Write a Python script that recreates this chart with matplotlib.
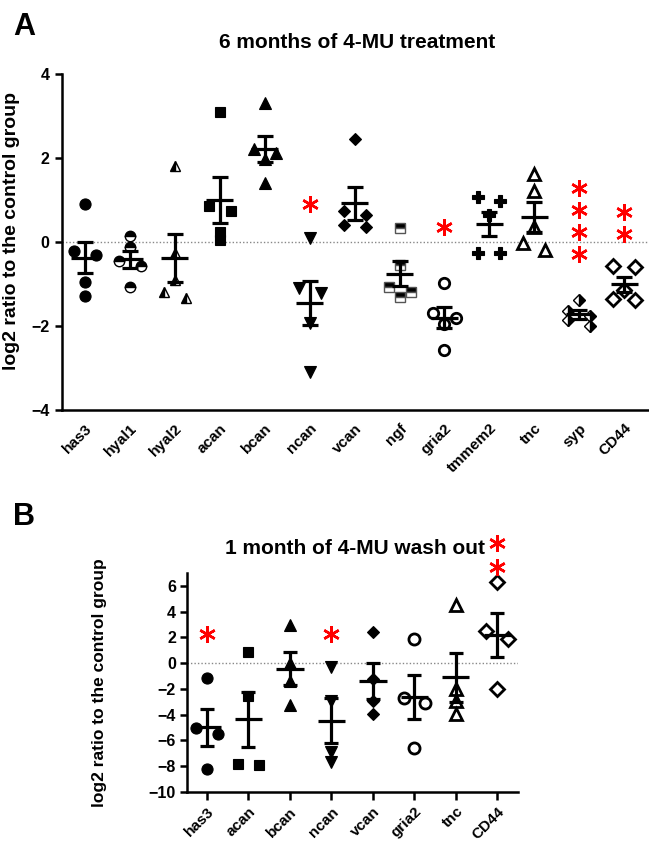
import numpy as np
import matplotlib
matplotlib.use('Agg')
import matplotlib.pyplot as plt

plt.rcParams['font.family'] = ['Liberation Sans', 'DejaVu Sans']
plt.rcParams['font.weight'] = 'bold'

# ---------------- Panel A data: 6 months of 4-MU treatment ----------------
genes_a = ['has3', 'hyal1', 'hyal2', 'acan', 'bcan', 'ncan', 'vcan', 'ngf',
           'gria2', 'tmmem2', 'tnc', 'syp', 'CD44']
a_has3 = [0.9, -0.21, -0.31, -0.95, -1.29]
a_hyal1 = [0.14, -0.12, -0.45, -0.57, -1.07]
a_hyal2 = [1.81, -0.26, -0.9, -1.2, -1.33]
a_acan = [3.1, 0.86, 0.74, 0.24, 0.05]
a_bcan = [3.31, 2.21, 2.12, 1.98, 1.4]
a_ncan = [0.1, -1.1, -1.22, -1.93, -3.1]
a_vcan = [2.45, 0.74, 0.64, 0.4, 0.36]
a_ngf = [0.33, -0.55, -1.07, -1.2, -1.3]
a_gria2 = [-0.97, -1.7, -1.8, -1.96, -2.57]
a_tmmem2 = [1.07, 0.97, 0.65, -0.27, -0.27]
a_tnc = [1.62, 1.21, 0.36, -0.03, -0.19]
a_syp = [-1.38, -1.65, -1.75, -1.85, -2.0]
a_cd44 = [-0.57, -0.59, -1.14, -1.36, -1.38]
values_a = [a_has3, a_hyal1, a_hyal2, a_acan, a_bcan, a_ncan, a_vcan, a_ngf,
            a_gria2, a_tmmem2, a_tnc, a_syp, a_cd44]
# significance asterisks (gene index, y value)
stars_a_gene = [5, 8, 11, 11, 11, 11, 12, 12]
stars_a_y = [0.9, 0.36, 1.29, 0.76, 0.24, -0.29, 0.71, 0.19]

# ---------------- Panel B data: 1 month of 4-MU wash out ----------------
genes_b = ['has3', 'acan', 'bcan', 'ncan', 'vcan', 'gria2', 'tnc', 'CD44']
b_has3 = [-1.17, -5.06, -5.5, -8.2]
b_acan = [0.86, -2.57, -7.8, -7.94]
b_bcan = [2.96, 0.05, -1.4, -3.27]
b_ncan = [-0.3, -2.9, -6.9, -7.7]
b_vcan = [2.4, -1.2, -2.9, -3.97]
b_gria2 = [1.87, -2.7, -3.07, -6.6]
b_tnc = [4.5, -2.0, -2.9, -3.97]
b_cd44 = [6.3, 2.5, 1.87, -2.0]
values_b = [b_has3, b_acan, b_bcan, b_ncan, b_vcan, b_gria2, b_tnc, b_cd44]
stars_b_gene = [0, 3, 7, 7]
stars_b_y = [2.3, 2.3, 9.3, 7.5]

# ---------------- marker styles ----------------
def mstyle(marker, kind, ms):
    d = dict(marker=marker, ms=ms, mec='black', ls='none')
    if kind == 'filled':
        d.update(mfc='black', mew=0.8)
    elif kind == 'open':
        d.update(mfc='white', mew=2.0)
    else:
        d.update(mfc='black', mfcalt='white', fillstyle=kind, mew=1.0)
    return d

styles_a = [mstyle('o', 'filled', 8), mstyle('o', 'top', 7.5),
            mstyle('^', 'left', 7.5), mstyle('s', 'filled', 7.5),
            mstyle('^', 'filled', 8), mstyle('v', 'filled', 8),
            mstyle('D', 'filled', 6.5), mstyle('s', 'top', 7),
            mstyle('o', 'open', 7.5), mstyle('P', 'filled', 8),
            mstyle('^', 'open', 8), mstyle('D', 'right', 6),
            mstyle('D', 'open', 7.5)]
styles_a[7]['mec'] = '#555555'
styles_b = [mstyle('o', 'filled', 8), mstyle('s', 'filled', 7.5),
            mstyle('^', 'filled', 8), mstyle('v', 'filled', 8),
            mstyle('D', 'filled', 6.5), mstyle('o', 'open', 8),
            mstyle('^', 'open', 8), mstyle('D', 'open', 7.5)]


def swarm_offsets(vals, thr, step):
    vals = np.asarray(vals, float)
    order = np.argsort(-vals, kind='stable')
    groups = []
    for i in order:
        if groups and abs(vals[groups[-1][0]] - vals[i]) < thr:
            groups[-1].append(i)
        else:
            groups.append([i])
    offs = np.zeros(len(vals))
    for g in groups:
        k = len(g)
        for j, i in enumerate(g):
            offs[i] = (j - (k - 1) / 2) * 2 * step
    return offs


def draw_panel(ax, values, styles, thr, step, mean_hw, capsize):
    for i, (v, st) in enumerate(zip(values, styles)):
        v = np.asarray(v, float)
        offs = swarm_offsets(v, thr, step)
        ax.plot(i + offs, v, zorder=2, clip_on=False, **st)
        m = v.mean()
        sem = v.std(ddof=1) / np.sqrt(len(v))
        ax.errorbar(i, m, yerr=sem, fmt='none', ecolor='black', elinewidth=2.3,
                    capsize=capsize, capthick=2.3, zorder=3)
        ax.hlines(m, i - mean_hw, i + mean_hw, colors='black', lw=2.3, zorder=3)
    ax.axhline(0, color='#888888', lw=1.0, ls=(0, (1, 1.5)), zorder=1)
    for s in ['top', 'right']:
        ax.spines[s].set_visible(False)
    for s in ['left', 'bottom']:
        ax.spines[s].set_linewidth(1.8)


fig = plt.figure(figsize=(6.49, 8.43), dpi=100)
W, H = 649, 843

# Panel A
ax1 = fig.add_axes([62 / W, 1 - 410 / H, (649 - 62) / W, (410 - 74) / H])
draw_panel(ax1, values_a, styles_a, thr=0.17, step=0.245, mean_hw=0.3, capsize=5.5)
ax1.plot(stars_a_gene, stars_a_y, ls='none', marker=(6, 2, 0), ms=12,
         mec='#ff0000', mew=1.8, zorder=4, clip_on=False)
ax1.set_xlim(-0.51, 12.55)
ax1.set_ylim(-4, 4)
ax1.set_yticks([-4, -2, 0, 2, 4])
ax1.set_xticks(range(len(genes_a)))
ax1.set_xticklabels(genes_a, rotation=45, ha='right', rotation_mode='anchor',
                    fontsize=11, fontweight='bold')
ax1.tick_params(axis='x', length=0, pad=8)
ax1.tick_params(axis='y', length=5, width=1.8, labelsize=11.5, pad=4)
ax1.set_ylabel('log2 ratio to the control group', fontsize=14, fontweight='bold')
ax1.yaxis.set_label_coords((20 - 62) / 587, (410 - 231) / 336)

# Panel B
ax2 = fig.add_axes([187 / W, 1 - 792 / H, (518 - 187) / W, (792 - 573) / H])
draw_panel(ax2, values_b, styles_b, thr=0.7, step=0.26, mean_hw=0.33, capsize=5)
ax2.plot(stars_b_gene, stars_b_y, ls='none', marker=(6, 2, 0), ms=12,
         mec='#ff0000', mew=1.8, zorder=4, clip_on=False)
ax2.set_xlim(-0.48, 7.5)
ax2.set_ylim(-10, 7)
ax2.set_yticks(list(range(-10, 7, 2)))
ax2.set_xticks(range(len(genes_b)))
ax2.set_xticklabels(genes_b, rotation=45, ha='right', rotation_mode='anchor',
                    fontsize=11, fontweight='bold')
ax2.tick_params(axis='x', length=6, width=1.8, pad=3)
ax2.tick_params(axis='y', length=5, width=1.8, labelsize=11.5, pad=3)
ax2.set_ylabel('log2 ratio to the control group', fontsize=12.5, fontweight='bold')
ax2.yaxis.set_label_coords((107 - 187) / 331, 0.5)

for lab in ax1.get_yticklabels() + ax2.get_yticklabels():
    lab.set_fontweight('bold')

fig.text(357 / W, 1 - 43 / H, '6 months of 4-MU treatment', ha='center', va='center',
         fontsize=15, fontweight='bold')
fig.text(355 / W, 1 - 548 / H, '1 month of 4-MU wash out', ha='center', va='center',
         fontsize=15, fontweight='bold')
fig.text(24 / W, 1 - 27 / H, 'A', ha='center', va='center', fontsize=22, fontweight='bold')
fig.text(24 / W, 1 - 517 / H, 'B', ha='center', va='center', fontsize=22, fontweight='bold')

fig.savefig('out.png', dpi=100)
